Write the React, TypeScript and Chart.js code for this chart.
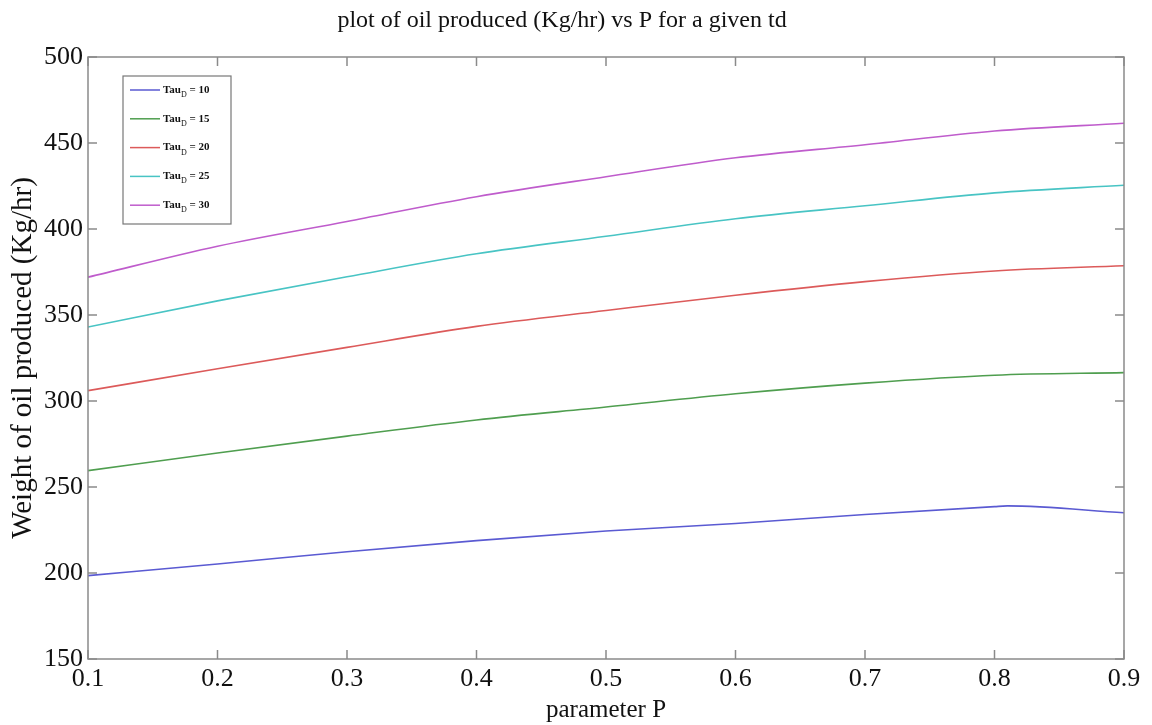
import React, { useEffect, useRef } from "react";
import { Chart, registerables } from "chart.js";

Chart.register(...registerables);

const pValues = [0.1, 0.2, 0.3, 0.4, 0.5, 0.6, 0.7, 0.8, 0.9];
const pValuesTau10 = [0.1, 0.2, 0.3, 0.4, 0.5, 0.6, 0.7, 0.8, 0.81, 0.9];
const tauValues = [10, 15, 20, 25, 30];
const tau10 = [198.5, 205.2, 212.4, 218.8, 224.4, 228.8, 234, 238.6, 239, 235];
const tau15 = [259.5, 269.8, 279.6, 289, 296.5, 304.2, 310.4, 315, 316.5];
const tau20 = [306, 318.7, 331.2, 343.4, 352.6, 361.5, 369.4, 375.6, 378.6];
const tau25 = [343, 358.2, 372.2, 385.6, 395.8, 406, 413.5, 421, 425.4];
const tau30 = [372, 390, 404.4, 418.8, 430.4, 441.4, 449, 457, 461.5];
const seriesColors = ["#5a5ad2", "#4f9e4f", "#dc5a5a", "#48c4c4", "#bf5ccc"];
const xTicks = [0.1, 0.2, 0.3, 0.4, 0.5, 0.6, 0.7, 0.8, 0.9];
const yTicks = [150, 200, 250, 300, 350, 400, 450, 500];

const SERIF = "'Liberation Serif', 'Times New Roman', serif";

const boxPlugin = {
  id: "matlabBox",
  afterDatasetsDraw(chart: any) {
    const { ctx, chartArea, scales } = chart;
    const { left, right, top, bottom } = chartArea;
    ctx.save();
    ctx.strokeStyle = "#8a8a8a";
    ctx.lineWidth = 1.5;
    ctx.strokeRect(left, top, right - left, bottom - top);
    const tl = 9;
    ctx.beginPath();
    xTicks.forEach((v) => {
      const x = scales.x.getPixelForValue(v);
      ctx.moveTo(x, bottom);
      ctx.lineTo(x, bottom - tl);
      ctx.moveTo(x, top);
      ctx.lineTo(x, top + tl);
    });
    yTicks.forEach((v) => {
      const y = scales.y.getPixelForValue(v);
      ctx.moveTo(left, y);
      ctx.lineTo(left + tl, y);
      ctx.moveTo(right, y);
      ctx.lineTo(right - tl, y);
    });
    ctx.stroke();

    // legend
    const bx = 123, by = 76, bw = 108, bh = 148;
    ctx.fillStyle = "#ffffff";
    ctx.fillRect(bx, by, bw, bh);
    ctx.strokeStyle = "#777777";
    ctx.lineWidth = 1.2;
    ctx.strokeRect(bx, by, bw, bh);
    chart.data.datasets.forEach((ds: any, i: number) => {
      const y = by + 14 + i * 28.8;
      ctx.strokeStyle = ds.borderColor;
      ctx.lineWidth = 1.5;
      ctx.beginPath();
      ctx.moveTo(bx + 7, y);
      ctx.lineTo(bx + 37, y);
      ctx.stroke();
      ctx.fillStyle = "#111";
      ctx.textBaseline = "middle";
      ctx.textAlign = "left";
      ctx.font = `bold 11px ${SERIF}`;
      let tx = bx + 40;
      ctx.fillText("Tau", tx, y);
      tx += ctx.measureText("Tau").width;
      ctx.font = `8px ${SERIF}`;
      ctx.fillText("D", tx, y + 5);
      tx += ctx.measureText("D").width;
      ctx.font = `bold 11px ${SERIF}`;
      ctx.fillText(" = " + tauValues[i], tx, y);
    });
    ctx.restore();
  },
};

export default function App() {
  const ref = useRef<HTMLCanvasElement>(null);
  useEffect(() => {
    document.body.style.margin = "0";
    const all = [tau10, tau15, tau20, tau25, tau30];
    const datasets = all.map((vals, i) => {
      const xs = i === 0 ? pValuesTau10 : pValues;
      return {
        label: `TauD = ${tauValues[i]}`,
        data: vals.map((v, j) => ({ x: xs[j], y: v })),
        borderColor: seriesColors[i],
        backgroundColor: seriesColors[i],
        borderWidth: 1.6,
        pointRadius: 0,
        tension: 0.3,
        cubicInterpolationMode: "monotone" as const,
        fill: false,
      };
    });
    const chart = new Chart(ref.current!, {
      type: "line",
      data: { datasets },
      options: {
        animation: false,
        responsive: false,
        maintainAspectRatio: false,
        layout: { padding: { left: 0, right: 28, top: 0, bottom: 0 } },
        plugins: {
          legend: { display: false },
          tooltip: { enabled: false },
          title: {
            display: true,
            text: "plot of oil produced (Kg/hr) vs P for a given td",
            color: "#111",
            font: { family: SERIF, size: 24, weight: "normal" },
            padding: { top: 6, bottom: 22.2 },
          },
        },
        scales: {
          x: {
            type: "linear",
            min: 0.1,
            max: 0.9,
            afterBuildTicks: (s: any) => {
              s.ticks = xTicks.map((v) => ({ value: v }));
            },
            afterFit: (s: any) => {
              s.height = 66;
            },
            grid: { display: false, drawTicks: false },
            border: { display: false },
            ticks: {
              color: "#111",
              font: { family: SERIF, size: 26 },
              padding: 5,
              maxRotation: 0,
              autoSkip: false,
              callback: (v: any) => Number(v).toFixed(1),
            },
            title: {
              display: true,
              text: "parameter P",
              color: "#111",
              font: { family: SERIF, size: 25 },
              padding: { top: -4, bottom: 0 },
            },
          },
          y: {
            type: "linear",
            min: 150,
            max: 500,
            afterBuildTicks: (s: any) => {
              s.ticks = yTicks.map((v) => ({ value: v }));
            },
            afterFit: (s: any) => {
              s.width = 88;
            },
            grid: { display: false, drawTicks: false },
            border: { display: false },
            ticks: {
              color: "#111",
              font: { family: SERIF, size: 26 },
              padding: 5,
              autoSkip: false,
            },
            title: {
              display: true,
              text: "Weight of oil produced (Kg/hr)",
              color: "#111",
              font: { family: SERIF, size: 29 },
              padding: { top: 6, bottom: 0 },
            },
          },
        },
      },
      plugins: [boxPlugin],
    });
    return () => chart.destroy();
  }, []);
  return (
    <div style={{ width: 1152, height: 725, background: "#fff" }}>
      <canvas ref={ref} width={1152} height={725} style={{ display: "block" }} />
    </div>
  );
}
